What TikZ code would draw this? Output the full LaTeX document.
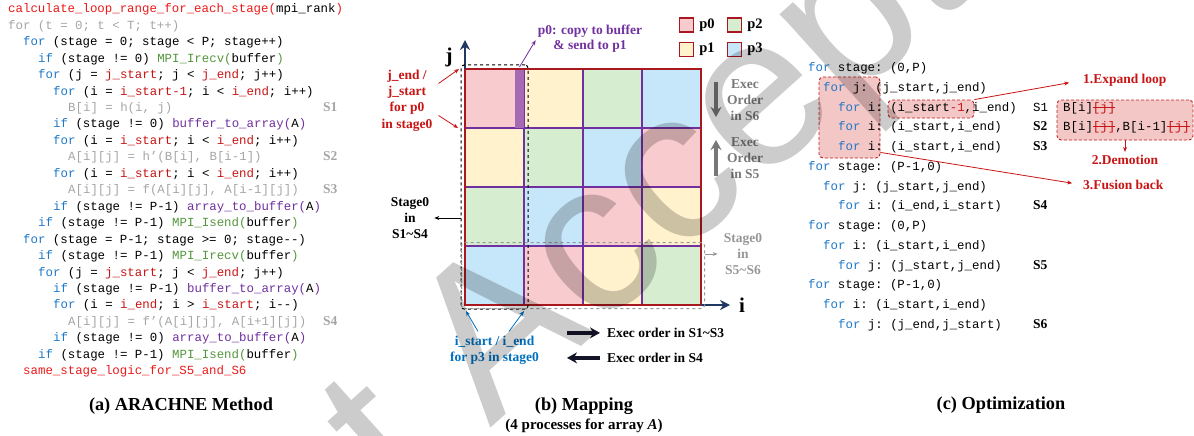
\documentclass[tikz,border=0pt]{standalone}
\usepackage{fontspec}
\setmainfont{Liberation Serif}
\setsansfont{Liberation Sans}
\setmonofont{Liberation Mono}
\usetikzlibrary{arrows.meta,positioning,calc,fit}

\definecolor{kwblue}{RGB}{31,120,200}
\definecolor{varred}{RGB}{200,20,20}
\definecolor{fnred}{RGB}{235,25,25}
\definecolor{mpigreen}{RGB}{84,150,60}
\definecolor{bufpurple}{RGB}{112,48,160}
\definecolor{stmgray}{RGB}{165,165,165}
\definecolor{pc0}{RGB}{248,203,206}
\definecolor{pc1}{RGB}{255,242,204}
\definecolor{pc2}{RGB}{214,237,208}
\definecolor{pc3}{RGB}{198,230,250}
\definecolor{gridborder}{RGB}{168,24,30}
\definecolor{stripcol}{RGB}{166,106,180}
\definecolor{notered}{RGB}{200,20,20}
\definecolor{noteblue}{RGB}{0,112,192}
\definecolor{axisnavy}{RGB}{31,56,100}
\definecolor{boxpink}{RGB}{244,199,199}
\definecolor{boxred}{RGB}{192,30,30}
\definecolor{ordergray}{RGB}{120,120,120}
\definecolor{stagegray}{RGB}{150,150,150}
\definecolor{orderblack}{RGB}{20,20,40}

\newcommand\kw[1]{\textcolor{kwblue}{#1}}
\newcommand\rv[1]{\textcolor{varred}{#1}}
\newcommand\fnc[1]{\textcolor{fnred}{#1}}
\newcommand\mpi[1]{\textcolor{mpigreen}{#1}}
\newcommand\buf[1]{\textcolor{bufpurple}{#1}}
\newcommand\stm[1]{\textcolor{stmgray}{#1}}
% red struck-out index
\newsavebox\strkbox
\newcommand\strk[1]{{\color{varred}\sbox\strkbox{#1}\rlap{\usebox\strkbox}\rule[0.28em]{\wd\strkbox}{0.9pt}}}
% one line of source code, (a) and (c)
\newcommand\srcline[3]{\node[code] (a#1) at (#2,{12.8+16.45*(#1-1)}) {#3};}
\newcommand\optline[3]{\node[code] (o#1) at (#2,{71.5+19.75*(#1-1)}) {#3};}

\tikzset{
  code/.style={font=\ttfamily\fontsize{12.4}{14}\selectfont, anchor=base west, inner sep=0pt},
  note/.style={font=\bfseries\fontsize{13.5}{16.3}\selectfont, align=center, inner sep=1pt},
  slbl/.style={font=\bfseries\fontsize{13.5}{16}\selectfont, anchor=base west, inner sep=0pt},
  caption/.style={font=\bfseries\fontsize{18.3}{22}\selectfont, anchor=base, inner sep=0pt},
  cell/.style={draw=bufpurple, line width=2pt, minimum size=59pt, inner sep=0pt, outer sep=0pt},
  legbox/.style={draw=gridborder, line width=1.2pt, minimum size=14pt, inner sep=0pt},
  leglbl/.style={font=\bfseries\fontsize{14.5}{16}\selectfont, inner sep=0pt},
  stagebox/.style={draw, dashed, rounded corners=3pt, line width=1pt},
  axis/.style={draw=axisnavy, line width=2.8pt, -{Stealth[length=10pt,width=10pt]}},
  orderarr/.style={line width=4pt, -{Stealth[length=10pt,width=11pt]}},
  thinarr/.style={line width=0.8pt, -{Stealth[length=5pt,width=4pt]}},
  hlbox/.style={draw=boxred, fill=boxpink, densely dashed, line width=0.9pt, rounded corners=4pt, inner sep=0pt},
}

\begin{document}
\begin{tikzpicture}[x=1pt,y=-1pt]
\useasboundingbox (0,0) rectangle (1194,436);

% (a) method
\srcline{1}{8}{\fnc{calculate\_loop\_range\_for\_each\_stage(}mpi\_rank\fnc{)}}
\srcline{2}{8}{\stm{for (t = 0; t < T; t++)}}
\srcline{3}{23}{\kw{for} (stage = 0; stage < P; stage++)}
\srcline{4}{38}{\kw{if} (stage != 0) \mpi{MPI\_Irecv(}buffer\mpi{)}}
\srcline{5}{38}{\kw{for} (j = \rv{j\_start}; j < \rv{j\_end}; j++)}
\srcline{6}{53}{\kw{for} (i = \rv{i\_start-1}; i < \rv{i\_end}; i++)}
\srcline{7}{68}{\stm{B[i] = h(i, j)}}
\srcline{8}{53}{\kw{if} (stage != 0) \buf{buffer\_to\_array(}A\buf{)}}
\srcline{9}{53}{\kw{for} (i = \rv{i\_start}; i < \rv{i\_end}; i++)}
\srcline{10}{68}{\stm{A[i][j] = h’(B[i], B[i-1])}}
\srcline{11}{53}{\kw{for} (i = \rv{i\_start}; i < \rv{i\_end}; i++)}
\srcline{12}{68}{\stm{A[i][j] = f(A[i][j], A[i-1][j])}}
\srcline{13}{53}{\kw{if} (stage != P-1) \buf{array\_to\_buffer(}A\buf{)}}
\srcline{14}{38}{\kw{if} (stage != P-1) \mpi{MPI\_Isend(}buffer\mpi{)}}
\srcline{15}{23}{\kw{for} (stage = P-1; stage >= 0; stage-{}-)}
\srcline{16}{38}{\kw{if} (stage != P-1) \mpi{MPI\_Irecv(}buffer\mpi{)}}
\srcline{17}{38}{\kw{for} (j = \rv{j\_start}; j < \rv{j\_end}; j++)}
\srcline{18}{53}{\kw{if} (stage != P-1) \buf{buffer\_to\_array(}A\buf{)}}
\srcline{19}{53}{\kw{for} (i = \rv{i\_end}; i > \rv{i\_start}; i-{}-)}
\srcline{20}{68}{\stm{A[i][j] = f’(A[i][j], A[i+1][j])}}
\srcline{21}{53}{\kw{if} (stage != 0) \buf{array\_to\_buffer(}A\buf{)}}
\srcline{22}{38}{\kw{if} (stage != P-1) \mpi{MPI\_Isend(}buffer\mpi{)}}
\srcline{23}{23}{\fnc{same\_stage\_logic\_for\_S5\_and\_S6}}
\node[slbl, text=stmgray] (s1) at (323,0 |- a7.base) {S1};
\node[slbl, text=stmgray] (s2) at (323,0 |- a10.base) {S2};
\node[slbl, text=stmgray] (s3) at (323,0 |- a12.base) {S3};
\node[slbl, text=stmgray] (s4) at (323,0 |- a20.base) {S4};
\node[caption] (capa) at (181,410) {(a) ARACHNE Method};

% (b) mapping: block-cyclic 4x4 grid
\foreach \r in {0,...,3}
  \foreach \c in {0,...,3} {
    \pgfmathtruncatemacro\pid{mod(\r+\c,4)}
    \node[cell, fill=pc\pid] (g\r\c) at ({494.5+59*\c},{98.5+59*\r}) {};
  }
\fill[stripcol] ($(g00.north east)+(-9,0)$) rectangle (g00.south east);
\draw[gridborder, line width=2.6pt] (g00.north west) rectangle (g33.south east);
\draw[axis] (g00.north west) -- ++(0,-29) coordinate (jtip);
\draw[axis] (g33.south east) -- ++(29,0) coordinate (itip);
\node[font=\bfseries\fontsize{21}{21}\selectfont] (jlab) at (449,57) {j};
\node[font=\bfseries\fontsize{21}{21}\selectfont] (ilab) at (742,305) {i};

\node[stagebox, fit=(g00)(g30), inner sep=4pt] (st14) {};
\node[stagebox, draw=stagegray, fit=(g30)(g33), inner sep=3.5pt] (st56) {};

% legend
\node[legbox, fill=pc0] (k0) at (686.5,25) {};
\node[leglbl, right=5pt of k0] (k0t) {p0};
\node[legbox, fill=pc2] (k2) at (734.5,25) {};
\node[leglbl, right=5pt of k2] (k2t) {p2};
\node[legbox, fill=pc1] (k1) at (686.5,49.5) {};
\node[leglbl, right=5pt of k1] (k1t) {p1};
\node[legbox, fill=pc3] (k3) at (734.5,49.5) {};
\node[leglbl, right=5pt of k3] (k3t) {p3};

% notes around the grid
\node[note, text=notered] (jnote) at (407,100.5) {j\_end /\\j\_start\\for p0\\in stage0};
\coordinate (jn1) at ($(jnote.east)+(5,-17)$);
\coordinate (jn2) at ($(jnote.east)+(5,15)$);
\draw[thinarr, notered] (jn1) -- ($(g00.north west)+(-6,0)$);
\draw[thinarr, notered] (jn2) -- ($(g10.north west)+(-7,0)$);

\node[note, text=bufpurple, font=\bfseries\fontsize{13.5}{15.5}\selectfont] (copynote) at (590,38.5) {p0: copy to buffer\\\& send to p1};
\coordinate (striptop) at ($(g00.north east)+(-4.5,-2)$);
\draw[thinarr, bufpurple, shorten >=2pt] (striptop) -- (copynote.west);

\node[note] (s14note) at (410,218) {Stage0\\in\\S1\textasciitilde S4};
\draw[thinarr, shorten >=4pt] (st14.west |- s14note) -- (s14note.east);
\node[note, text=stagegray] (s56note) at (743,254) {Stage0\\in\\S5\textasciitilde S6};
\draw[thinarr, stagegray, shorten >=5pt] (st56.east |- s56note) -- (s56note.west);

\node[note, text=ordergray] (s6ord) at (745,100) {Exec\\Order\\in S6};
\node[note, text=ordergray] (s5ord) at (745,158) {Exec\\Order\\in S5};
\coordinate (s6a) at (716,82);
\coordinate (s6b) at (716,117);
\coordinate (s5a) at (716,176);
\coordinate (s5b) at (716,140);
\draw[orderarr, ordergray] (s6a) -- (s6b);
\draw[orderarr, ordergray] (s5a) -- (s5b);

\node[note, text=noteblue] (inote) at (494.5,350) {i\_start / i\_end\\for p3 in stage0};
\coordinate (in1) at ($(inote.north)+(-16.5,-3)$);
\coordinate (in2) at ($(inote.north)+(14.5,-3)$);
\draw[thinarr, noteblue] (in1) -- ($(g30.south west)+(1,6)$);
\draw[thinarr, noteblue] (in2) -- ($(g30.south east)+(0,6)$);

\node[note, anchor=base west] (ord13) at (606,337.5) {Exec order in S1\textasciitilde S3};
\node[note, anchor=base west] (ord4) at (606,362.5) {Exec order in S4};
\coordinate (o13a) at ($(ord13.west)+(-39,0)$);
\coordinate (o13b) at ($(ord13.west)+(-6,0)$);
\coordinate (o4a) at ($(ord4.west)+(-6,0)$);
\coordinate (o4b) at ($(ord4.west)+(-39,0)$);
\draw[orderarr, orderblack] (o13a) -- (o13b);
\draw[orderarr, orderblack] (o4a) -- (o4b);

\node[caption] (capb) at (584,410) {(b) Mapping};
\node[caption, font=\bfseries\fontsize{15}{18}\selectfont] (capb2) at (584,429) {(4 processes for array \textit{A})};

% (c) optimization
\node[hlbox, minimum width=61pt, minimum height=81pt] (fusebox) at (849.5,117.5) {};
\node[hlbox, minimum width=86pt, minimum height=18pt] (expbox) at (931,109) {};
\node[hlbox, minimum width=136pt, minimum height=40pt] (demobox) at (1125,120) {};

\optline{1}{808}{\kw{for} stage: (0,P)}
\optline{2}{823}{\kw{for} j: (j\_start,j\_end)}
\optline{3}{838}{\kw{for} i: (i\_start\rv{-1},i\_end)}
\optline{4}{838}{\kw{for} i: (i\_start,i\_end)}
\optline{5}{838}{\kw{for} i: (i\_start,i\_end)}
\optline{6}{808}{\kw{for} stage: (P-1,0)}
\optline{7}{823}{\kw{for} j: (j\_start,j\_end)}
\optline{8}{838}{\kw{for} i: (i\_end,i\_start)}
\optline{9}{808}{\kw{for} stage: (0,P)}
\optline{10}{823}{\kw{for} i: (i\_start,i\_end)}
\optline{11}{838}{\kw{for} j: (j\_start,j\_end)}
\optline{12}{808}{\kw{for} stage: (P-1,0)}
\optline{13}{823}{\kw{for} i: (i\_start,i\_end)}
\optline{14}{838}{\kw{for} j: (j\_end,j\_start)}
\node[code] (o3s) at (1033,0 |- o3.base) {S1};
\node[slbl] (o4s) at (1033,0 |- o4.base) {S2};
\node[slbl] (o5s) at (1033,0 |- o5.base) {S3};
\node[slbl] (o8s) at (1033,0 |- o8.base) {S4};
\node[slbl] (o11s) at (1033,0 |- o11.base) {S5};
\node[slbl] (o14s) at (1033,0 |- o14.base) {S6};

\node[code] (dm1) at (1063,0 |- o3.base) {B[i]\strk{[j]}};
\node[code] (dm2) at (1063,0 |- o4.base) {B[i]\strk{[j]},B[i-1]\strk{[j]}};

\node[slbl, text=notered] (step1) at (1083,83.5) {1.Expand loop};
\node[note, text=notered, anchor=base] (step2) at (1125,164.5) {2.Demotion};
\node[slbl, text=notered] (step3) at (1083,189.5) {3.Fusion back};
\draw[thinarr, notered, shorten >=14pt] (expbox.north east) -- (step1.west);
\draw[thinarr, notered, shorten >=2pt] (demobox.south) -- (step2.north);
\draw[thinarr, notered, shorten >=11pt] ($(fusebox.south east)+(0,-6)$) -- (step3.west);

\node[caption] (capc) at (1001,409.5) {(c) Optimization};

% watermark
\begin{scope}
  \clip (0,0) rectangle (1194,436);
  \node[font=\sffamily\fontsize{215}{215}\selectfont, text=black, opacity=0.2,
        rotate=42, anchor=base west, inner sep=0pt] (wmark) at (153,732) {Just Accepted};
\end{scope}
\end{tikzpicture}
\end{document}
